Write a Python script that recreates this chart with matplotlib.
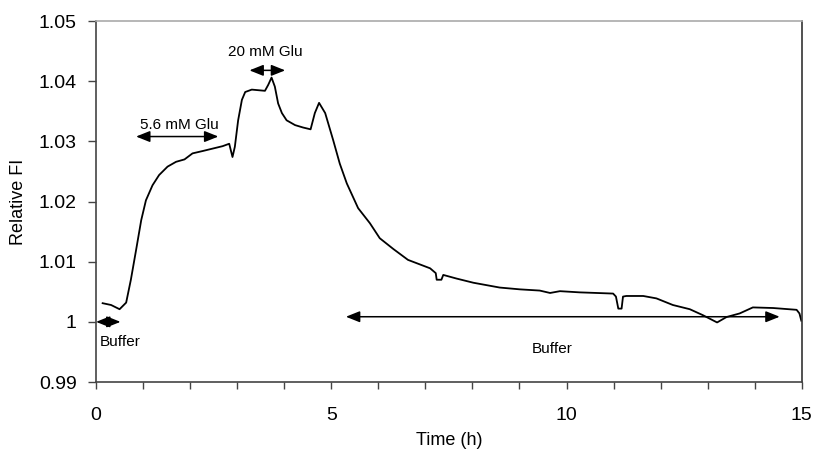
import matplotlib.pyplot as plt
from matplotlib.ticker import FixedLocator

# trace (time in h, relative fluorescence intensity)
time_h = [0.14, 0.32, 0.50, 0.64, 0.74, 0.85, 0.96, 1.06, 1.20, 1.34,
          1.52, 1.70, 1.88, 2.05, 2.27, 2.48, 2.69, 2.83, 2.90, 2.95,
          3.02, 3.10, 3.17, 3.31, 3.45, 3.59, 3.66, 3.73, 3.80, 3.87,
          3.95, 4.05, 4.23, 4.40, 4.56, 4.65, 4.74, 4.87, 5.04, 5.18,
          5.33, 5.57, 5.82, 6.03, 6.32, 6.63, 7.10, 7.22, 7.24, 7.34,
          7.38, 7.66, 8.02, 8.58, 9.01, 9.43, 9.65, 9.86, 10.28, 10.64,
          10.99, 11.05, 11.10, 11.17, 11.20, 11.27, 11.63, 11.91, 12.26, 12.62,
          12.90, 13.20, 13.40, 13.68, 13.96, 14.39, 14.89, 14.95, 14.99]
rel_fi = [1.0031, 1.0028, 1.0021, 1.0032, 1.0070, 1.0119, 1.0169, 1.0202, 1.0227, 1.0244,
          1.0258, 1.0266, 1.0270, 1.0280, 1.0284, 1.0288, 1.0292, 1.0296, 1.0274, 1.0291,
          1.0335, 1.0369, 1.0382, 1.0386, 1.0385, 1.0384, 1.0394, 1.0406, 1.0391, 1.0363,
          1.0347, 1.0335, 1.0327, 1.0323, 1.0320, 1.0347, 1.0364, 1.0347, 1.0302, 1.0263,
          1.0230, 1.0189, 1.0164, 1.0139, 1.0121, 1.0103, 1.0089, 1.0081, 1.0070, 1.0070,
          1.0078, 1.0072, 1.0065, 1.0057, 1.0054, 1.0052, 1.0048, 1.0051, 1.0049, 1.0048,
          1.0047, 1.0042, 1.0022, 1.0022, 1.0042, 1.0043, 1.0043, 1.0039, 1.0028, 1.0021,
          1.0011, 0.9999, 1.0008, 1.0014, 1.0024, 1.0023, 1.0020, 1.0014, 1.0002]

# treatment periods: (label, start, end, arrow y, text x, text y, text alignment)
periods = [
    ("Buffer", 0.0, 0.52, 1.0, 0.08, 0.9967, "left"),
    ("5.6 mM Glu", 0.85, 2.60, 1.0308, 1.77, 1.0328, "center"),
    ("20 mM Glu", 3.26, 4.02, 1.0418, 3.60, 1.0448, "center"),
    ("Buffer", 5.31, 14.53, 1.00085, 9.70, 0.99548, "center"),
]

yticks = [0.99, 1.0, 1.01, 1.02, 1.03, 1.04, 1.05]
ytick_labels = ["0.99", "1", "1.01", "1.02", "1.03", "1.04", "1.05"]
xticks_labeled = [0, 5, 10, 15]

plt.rcParams['font.family'] = ['Liberation Sans', 'DejaVu Sans']

fig = plt.figure(figsize=(8.14, 4.55), dpi=100)
ax = fig.add_axes([0.118, 0.1604, 0.867, 0.7934])

ax.plot(time_h, rel_fi, color='black', lw=1.3)

for label, x0, x1, ya, tx, ty, ha in periods:
    ax.annotate("", xy=(x0, ya), xytext=(x1, ya),
                arrowprops=dict(arrowstyle='<|-|>,head_length=0.7,head_width=0.28',
                                color='black', lw=1.1, shrinkA=0, shrinkB=0,
                                mutation_scale=12))
    ax.text(tx, ty, label, fontsize=11, ha=ha, va='center')

ax.set_xlim(0, 15)
ax.set_ylim(0.99, 1.05)
ax.xaxis.set_major_locator(FixedLocator(range(16)))
ax.set_xticklabels([str(t) if t in xticks_labeled else "" for t in range(16)])
ax.set_yticks(yticks)
ax.set_yticklabels(ytick_labels)

ax.tick_params(axis='x', direction='out', length=5, width=1, pad=13,
               labelsize=14, color='#444444')
ax.tick_params(axis='y', direction='out', length=6, width=1, pad=8,
               labelsize=14, color='#444444')

ax.spines['top'].set_color('#aaaaaa')
ax.spines['left'].set_color('#444444')
ax.spines['bottom'].set_color('#444444')
ax.spines['right'].set_color('#333333')
for s in ax.spines.values():
    s.set_linewidth(1.2)

ax.set_xlabel("Time (h)", fontsize=13, labelpad=6)
ax.set_ylabel("Relative FI", fontsize=13, labelpad=8)

fig.savefig("out.png", dpi=100)
